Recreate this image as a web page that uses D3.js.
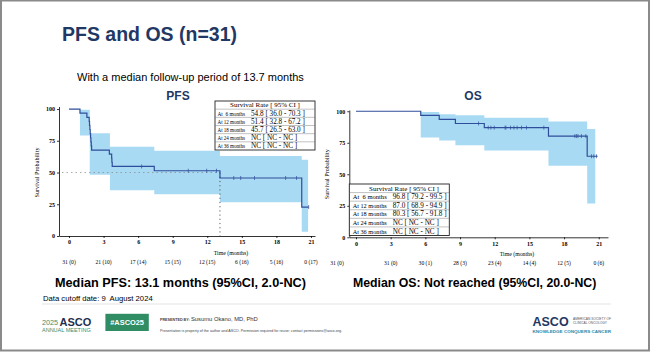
<!DOCTYPE html>
<html>
<head>
<meta charset="utf-8">
<style>
  body { margin: 0; padding: 0; background: #fff; }
  svg { display: block; }
  .serif { font-family: "Liberation Serif", "DejaVu Serif", serif; }
  .sans { font-family: "Liberation Sans", Arial, sans-serif; }
  .axis path, .axis line { stroke: #000; stroke-width: 0.8; }
  .axis text { font-family: "Liberation Serif", serif; font-size: 6px; font-weight: bold; fill: #000; }
</style>
<script src="https://cdnjs.cloudflare.com/ajax/libs/d3/7.8.5/d3.min.js"></script>
</head>
<body>
<svg width="650" height="352"></svg>
<script>
// ---- data ----
const ticksX = [0, 3, 6, 9, 12, 15, 18, 21];
const ticksY = [0, 25, 50, 75, 100];

// PFS: [time (months), survival %]
const pfsSteps = [[0, 100], [0.95, 96.8], [1.55, 93.5], [1.75, 90.3], [1.78, 87.1], [1.81, 83.9],
  [1.84, 80.6], [1.87, 77.4], [1.9, 74.2], [1.93, 71.0], [1.96, 67.7], [3.5, 64.5],
  [3.7, 61.3], [3.72, 58.1], [3.75, 54.8], [7.4, 51.4], [13.1, 45.7], [20.2, 22.8]];
const pfsEnd = 20.8;
const pfsCensor = [6.3, 10.35, 11.95, 12.8, 14.3, 14.9, 16.1, 18.8, 19.75, 20.8];
// [start, lower, upper]
const pfsBand = [[0.95, 79.2, 99.5], [1.8, 48.3, 81.0], [3.55, 36.0, 70.3], [7.4, 32.8, 67.2],
  [13.1, 26.5, 63.0], [20.2, 3.4, 60.0]];
const pfsBandEnd = 20.75;
const pfsRisk = ["31 (0)", "21 (10)", "17 (14)", "15 (15)", "12 (15)", "6 (16)", "5 (16)", "0 (17)"];
const pfsMedian = 13.1;
const pfsTable = [["At  6 months", "54.8 [ 36.0 - 70.3 ]"], ["At 12 months", "51.4 [ 32.8 - 67.2 ]"],
  ["At 18 months", "45.7 [ 26.5 - 63.0 ]"], ["At 24 months", "NC [ NC - NC ]"], ["At 36 months", "NC [ NC - NC ]"]];

// OS
const osSteps = [[0, 100], [5.6, 96.8], [7.2, 93.5], [8.6, 90.3], [11.1, 87.0], [16.65, 80.3], [20.0, 64.3]];
const osEnd = 20.9;
const osCensor = [10.6, 11.44, 11.67, 11.96, 12.9, 12.97, 13.37, 13.66, 13.94, 14.32, 14.75, 16.25,
  18.93, 19.07, 19.2, 19.5, 19.88, 20.37, 20.57, 20.8];
const osBand = [[5.6, 79.2, 99.5], [7.2, 76.8, 97.6], [8.6, 73.1, 96.8], [11.1, 68.9, 94.9],
  [16.65, 56.7, 91.8], [20.0, 26.9, 86.0]];
const osBandEnd = 20.7;
const osRisk = ["31 (0)", "31 (0)", "30 (1)", "28 (3)", "23 (4)", "14 (4)", "12 (5)", "0 (6)"];
const osTable = [["At  6 months", "96.8 [ 79.2 - 99.5 ]"], ["At 12 months", "87.0 [ 68.9 - 94.9 ]"],
  ["At 18 months", "80.3 [ 56.7 - 91.8 ]"], ["At 24 months", "NC [ NC - NC ]"], ["At 36 months", "NC [ NC - NC ]"]];

const lineColor = "#2f4d9a";
const bandColor = "#a9daf3";
const navy = "#1f3864";

const svg = d3.select("svg");

// slide frame
svg.append("rect").attr("x", 1).attr("y", 0.5).attr("width", 648).attr("height", 350)
  .attr("fill", "#fff").attr("stroke", "#8a8a8a").attr("stroke-width", 2);

function survAt(steps, t) {
  let s = steps[0][1];
  steps.forEach(d => { if (d[0] <= t) s = d[1]; });
  return s;
}

function drawPanel(p) {
  const g = svg.append("g");
  const x = d3.scaleLinear().domain(p.xDom).range(p.xRange);
  const y = d3.scaleLinear().domain(p.yDom).range(p.yRange);

  // confidence band
  const lastB = p.band[p.band.length - 1];
  const bandPts = p.band.concat([[p.bandEnd, lastB[1], lastB[2]]]);
  g.append("path").datum(bandPts)
    .attr("d", d3.area().curve(d3.curveStepAfter).x(d => x(d[0])).y0(d => y(d[1])).y1(d => y(d[2])))
    .attr("fill", bandColor);

  // median guide lines
  if (p.median != null) {
    g.append("line").attr("x1", x(p.xDom[0]) + 3).attr("x2", x(p.median))
      .attr("y1", y(50)).attr("y2", y(50))
      .attr("stroke", "#888").attr("stroke-width", 0.7).attr("stroke-dasharray", "1.5,3");
    g.append("line").attr("x1", x(p.median)).attr("x2", x(p.median))
      .attr("y1", y(50)).attr("y2", y(0))
      .attr("stroke", "#333").attr("stroke-width", 0.8).attr("stroke-dasharray", "1.2,3");
  }

  // KM curve
  const lastS = p.steps[p.steps.length - 1];
  const pts = p.steps.concat([[p.end, lastS[1]]]);
  g.append("path").datum(pts)
    .attr("d", d3.line().curve(d3.curveStepAfter).x(d => x(d[0])).y(d => y(d[1])))
    .attr("fill", "none").attr("stroke", lineColor).attr("stroke-width", 1.2);

  // censor marks
  g.selectAll(".cens").data(p.censor).join("line")
    .attr("x1", d => x(d)).attr("x2", d => x(d))
    .attr("y1", d => y(survAt(p.steps, d)) - 2).attr("y2", d => y(survAt(p.steps, d)) + 2)
    .attr("stroke", lineColor).attr("stroke-width", 0.7);

  // axes
  g.append("g").attr("class", "axis").attr("transform", `translate(0,${y(0)})`)
    .call(d3.axisBottom(x).tickValues(ticksX).tickSize(2).tickSizeOuter(0).tickPadding(2));
  g.append("g").attr("class", "axis").attr("transform", `translate(${p.xRange[0]},0)`)
    .call(d3.axisLeft(y).tickValues(ticksY).tickSize(2).tickSizeOuter(0).tickPadding(2));

  // axis titles
  g.append("text").attr("class", "serif").attr("font-size", 6.2)
    .attr("transform", `translate(${p.yLabelX},${(y(0) + y(100)) / 2}) rotate(-90)`)
    .attr("text-anchor", "middle").text("Survival Probability");
  g.append("text").attr("class", "serif").attr("font-size", 5.8)
    .attr("x", p.timeX).attr("y", y(0) + 19).attr("text-anchor", "middle").text("Time (months)");

  // number at risk
  g.selectAll(".risk").data(p.risk).join("text").attr("class", "serif")
    .attr("font-size", 5.6).attr("text-anchor", "middle")
    .attr("x", (d, i) => x(ticksX[i]) + (i === 0 ? p.firstRiskShift : 0))
    .attr("y", y(0) + 27.5).text(d => d);

  // panel title
  g.append("text").attr("class", "sans").attr("font-size", 12).attr("font-weight", "bold")
    .attr("fill", navy).attr("text-anchor", "middle")
    .attr("x", p.titleX).attr("y", 100).text(p.title);

  // survival-rate table
  const t = p.table;
  const rowH = t.h / 6;
  const tg = g.append("g").attr("class", "serif");
  tg.append("rect").attr("x", t.x).attr("y", t.y).attr("width", t.w).attr("height", t.h)
    .attr("fill", "#fff").attr("stroke", "#222").attr("stroke-width", 0.9);
  d3.range(1, 6).forEach(i => {
    tg.append("line").attr("x1", t.x).attr("x2", t.x + t.w)
      .attr("y1", t.y + i * rowH).attr("y2", t.y + i * rowH)
      .attr("stroke", "#666").attr("stroke-width", 0.4);
  });
  tg.append("text").attr("font-size", 7).attr("text-anchor", "middle")
    .attr("x", t.headX).attr("y", t.y + rowH * 0.5 + 2.4).text("Survival Rate [ 95% CI ]");
  tg.selectAll(".lab").data(p.rows).join("text").attr("font-size", 6.8)
    .attr("x", t.labX).attr("y", (d, i) => t.y + rowH * (i + 1.5) + 2.4)
    .attr("textLength", t.labW).attr("lengthAdjust", "spacingAndGlyphs")
    .style("white-space", "pre").text(d => d[0]);
  tg.selectAll(".val").data(p.rows).join("text").attr("font-size", 7.2)
    .attr("x", t.valX).attr("y", (d, i) => t.y + rowH * (i + 1.5) + 2.4)
    .text(d => d[1]);
}

drawPanel({
  title: "PFS", titleX: 178,
  xDom: [-0.87, 21.35], xRange: [59, 315],
  yDom: [0, 102], yRange: [236, 106.5],
  steps: pfsSteps, end: pfsEnd, censor: pfsCensor,
  band: pfsBand, bandEnd: pfsBandEnd, median: pfsMedian,
  risk: pfsRisk, firstRiskShift: 0, rows: pfsTable,
  yLabelX: 39, timeX: 231,
  table: { x: 215, y: 101, w: 100, h: 49, headX: 265, labX: 217.5, labW: 27.5, valX: 251 }
});

drawPanel({
  title: "OS", titleX: 473,
  xDom: [-0.58, 21.8], xRange: [349.3, 608],
  yDom: [0, 101], yRange: [237.3, 110],
  steps: osSteps, end: osEnd, censor: osCensor,
  band: osBand, bandEnd: osBandEnd, median: null,
  risk: osRisk, firstRiskShift: -19, rows: osTable,
  yLabelX: 329, timeX: 517,
  table: { x: 349.3, y: 184, w: 100, h: 51.5, headX: 404, labX: 352.7, labW: 34, valX: 392.7 }
});

// ---- slide text ----
const txt = (x, y, s, size, opts = {}) => svg.append("text").attr("class", "sans")
  .attr("x", x).attr("y", y).attr("font-size", size)
  .attr("font-weight", opts.bold ? "bold" : null).attr("fill", opts.fill || "#000")
  .attr("text-anchor", opts.anchor || null).style("white-space", "pre").text(s);

txt(62, 41, "PFS and OS (n=31)", 19.5, { bold: true, fill: navy });
txt(77, 81, "With a median follow-up period of 13.7 months", 11);
txt(55, 287, "Median PFS: 13.1 months (95%CI, 2.0-NC)", 12.7, { bold: true });
txt(353, 287, "Median OS: Not reached (95%CI, 20.0-NC)", 12.3, { bold: true });
txt(43, 300.5, "Data cutoff date: 9  August 2024", 7.7);

svg.append("line").attr("x1", 42).attr("x2", 611).attr("y1", 304).attr("y2", 304)
  .attr("stroke", "#dcdcdc").attr("stroke-width", 0.8);

// footer
const green = "#3a8d6c";
txt(42, 325, "2025", 7.2, { fill: green });
txt(59.5, 326, "ASCO", 11, { bold: true, fill: "#1f2f4f" });
txt(42, 332, "ANNUAL MEETING", 5.5, { fill: green });
svg.append("rect").attr("x", 105.4).attr("y", 313.8).attr("width", 43.4).attr("height", 17.2).attr("fill", "#2f8c63");
txt(127.1, 325, "#ASCO25", 7.4, { bold: true, fill: "#fff", anchor: "middle" });
txt(160, 321, "PRESENTED BY:", 3.7, { bold: true, fill: "#444" });
txt(191, 321, "Susumu Okano, MD, PhD", 5.8, { fill: "#333" });
txt(160, 331.5, "Presentation is property of the author and ASCO. Permission required for reuse; contact permissions@asco.org.", 3.4, { fill: "#444" })
  .attr("textLength", 182).attr("lengthAdjust", "spacingAndGlyphs");
txt(532.5, 326, "ASCO", 12.5, { bold: true, fill: navy });
txt(573, 319.5, "AMERICAN SOCIETY OF", 2.8, { fill: "#555" }).attr("textLength", 38).attr("lengthAdjust", "spacingAndGlyphs");
txt(573, 323.5, "CLINICAL ONCOLOGY", 2.8, { fill: "#555" }).attr("textLength", 34).attr("lengthAdjust", "spacingAndGlyphs");
txt(532.5, 332.5, "KNOWLEDGE CONQUERS CANCER", 4.2, { bold: true, fill: "#2b88a8" })
  .attr("textLength", 78.5).attr("lengthAdjust", "spacingAndGlyphs");
</script>
</body>
</html>
